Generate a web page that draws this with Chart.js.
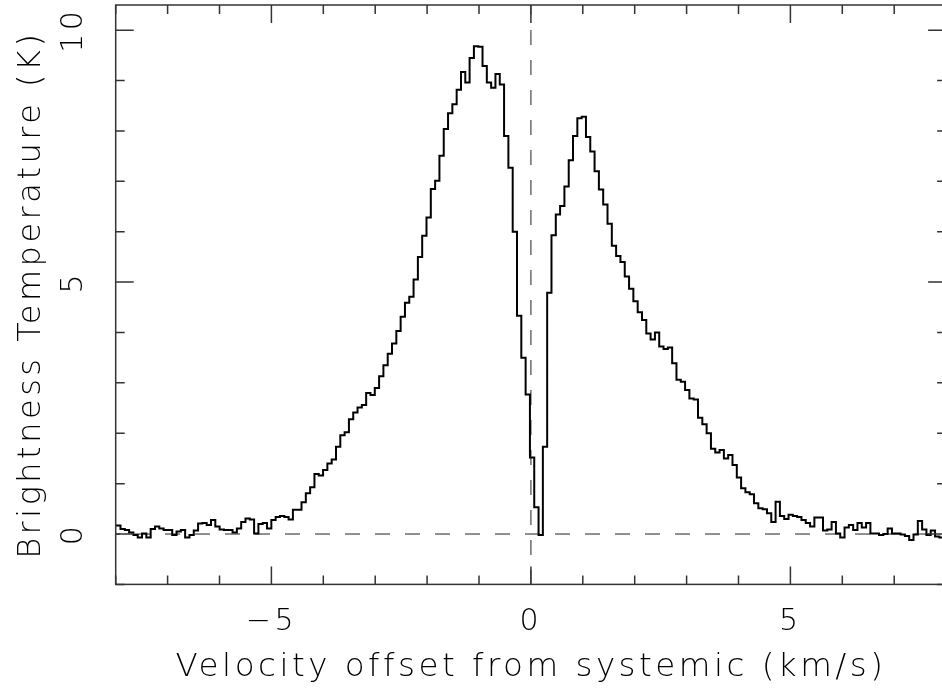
<!DOCTYPE html>
<html>
<head>
<meta charset="utf-8">
<title>Spectrum</title>
<script src="https://cdn.jsdelivr.net/npm/chart.js@4/dist/chart.umd.min.js"></script>
<style>
  html, body { margin: 0; padding: 0; background: #fff; overflow: hidden; }
  canvas { display: block; }
</style>
</head>
<body>
<canvas id="spectrum" width="960" height="692"></canvas>
<script>
// channel grid of the spectrum (km/s)
const firstChannel = -8.032;   // centre of the first channel
const channelWidth = 0.08304;

// brightness temperature per channel (K)
const brightness = [
  0.17, 0.17, 0.10, 0.08, 0.03, -0.02, -0.07, 0.01, -0.07, 0.10,
  0.15, 0.11, 0.08, 0.08, -0.02, 0.05, 0.08, -0.07, -0.02, 0.07,
  0.21, 0.22, 0.18, 0.28, 0.15, 0.09, 0.08, 0.08, 0.03, 0.11,
  0.24, 0.31, 0.29, 0.01, 0.20, 0.22, 0.11, 0.28, 0.34, 0.36,
  0.34, 0.29, 0.48, 0.48, 0.63, 0.81, 0.93, 1.19, 1.16, 1.27,
  1.40, 1.48, 1.73, 1.96, 2.02, 2.28, 2.41, 2.51, 2.56, 2.80,
  2.76, 2.90, 3.13, 3.35, 3.58, 3.78, 4.03, 4.31, 4.59, 4.71,
  5.05, 5.50, 5.92, 6.28, 6.85, 7.01, 7.51, 8.04, 8.35, 8.53,
  8.82, 9.17, 8.96, 9.45, 9.68, 9.67, 9.29, 8.96, 8.86, 9.13,
  8.92, 7.90, 7.27, 6.00, 4.33, 3.50, 2.77, 1.52, 0.53, -0.02,
  1.73, 4.79, 5.93, 6.34, 6.51, 6.90, 7.42, 7.90, 8.25, 8.28,
  7.88, 7.59, 7.20, 6.84, 6.54, 6.16, 5.72, 5.52, 5.40, 5.11,
  4.87, 4.62, 4.40, 4.25, 3.98, 3.86, 4.00, 3.72, 3.67, 3.70,
  3.39, 3.06, 3.02, 2.86, 2.69, 2.67, 2.31, 2.18, 2.00, 1.69,
  1.62, 1.67, 1.50, 1.57, 1.37, 1.12, 0.91, 0.83, 0.79, 0.61,
  0.51, 0.49, 0.41, 0.24, 0.64, 0.36, 0.30, 0.38, 0.36, 0.34,
  0.28, 0.22, 0.15, 0.33, 0.33, 0.07, 0.09, 0.24, 0.01, -0.07,
  0.13, 0.18, 0.08, 0.22, 0.13, 0.22, 0.01, 0.01, -0.02, 0.00,
  0.11, 0.01, 0.01, -0.01, -0.04, -0.12, -0.01, 0.26, 0.09, -0.02,
  0.07, -0.05, -0.07, -0.05
];

// axes
const xRange = [-8, 8];
const yRange = [-1, 10.5];
const xTickStep = 5;
const yTickStep = 5;
const xTitle = 'Velocity offset from systemic (km/s)';
const yTitle = 'Brightness Temperature (K)';

const fontFamily = "'DejaVu Sans', 'Liberation Sans', sans-serif";

const spectrum = brightness.map((t, i) => ({ x: firstChannel + i * channelWidth, y: t }));
const zeroLine = [{ x: xRange[0], y: 0 }, { x: xRange[1], y: 0 }];
const systemicLine = [{ x: 0, y: yRange[0] }, { x: 0, y: yRange[1] }];

function minusSign(v) {
  return v < 0 ? '\u2212' + Math.abs(v) : String(v);
}

// wide, spaced lettering like the plotting package
const spacing = {
  id: 'spacing',
  beforeLayout(chart) { chart.ctx.letterSpacing = '3.5px'; },
  beforeDraw(chart) { chart.ctx.letterSpacing = '3.5px'; }
};

// box round the plot with inward ticks on all four sides
const frame = {
  id: 'frame',
  afterDatasetsDraw(chart) {
    const { ctx, chartArea: a, scales: { x, y } } = chart;
    ctx.save();
    ctx.strokeStyle = '#333';
    ctx.lineWidth = 1.5;
    ctx.strokeRect(a.left, a.top, a.right - a.left, a.bottom - a.top);
    ctx.beginPath();
    for (let v = Math.ceil(x.min); v <= x.max; v++) {
      const px = x.getPixelForValue(v);
      const len = v % 5 === 0 ? 18 : 9;
      ctx.moveTo(px, a.bottom); ctx.lineTo(px, a.bottom - len);
      ctx.moveTo(px, a.top); ctx.lineTo(px, a.top + len);
    }
    for (let v = Math.ceil(y.min); v <= y.max; v++) {
      const py = y.getPixelForValue(v);
      const len = v % 5 === 0 ? 18 : 9;
      ctx.moveTo(a.left, py); ctx.lineTo(a.left + len, py);
      ctx.moveTo(a.right, py); ctx.lineTo(a.right - len, py);
    }
    ctx.stroke();
    ctx.restore();
  }
};

// fixed axis sizes so the plot box sits where the original one does
function fixSize(prop, value) {
  return scale => {
    scale[prop] = value;
    scale.paddingTop = 0;
    scale.paddingBottom = 0;
    scale.paddingLeft = 0;
    scale.paddingRight = 0;
  };
}

const ctx = document.getElementById('spectrum').getContext('2d');
new Chart(ctx, {
  type: 'line',
  data: {
    datasets: [
      {
        data: spectrum,
        stepped: 'middle',
        borderColor: '#000',
        borderWidth: 2,
        pointRadius: 0,
        order: 0
      },
      {
        data: zeroLine,
        borderColor: '#555',
        borderWidth: 1.3,
        borderDash: [15, 15],
        borderDashOffset: 10.7,
        pointRadius: 0,
        order: 1
      },
      {
        data: systemicLine,
        borderColor: '#555',
        borderWidth: 1.3,
        borderDash: [15, 15],
        borderDashOffset: 0.6,
        pointRadius: 0,
        order: 1
      }
    ]
  },
  options: {
    responsive: false,
    devicePixelRatio: 1,
    animation: false,
    layout: { padding: { top: 5, right: 13.9, left: 0, bottom: 0 } },
    plugins: {
      legend: { display: false },
      tooltip: { enabled: false }
    },
    scales: {
      x: {
        type: 'linear',
        min: xRange[0],
        max: xRange[1],
        grid: { display: false },
        border: { display: false },
        ticks: {
          stepSize: xTickStep,
          includeBounds: false,
          padding: 12,
          color: '#000',
          font: { family: fontFamily, size: 30, weight: 200 },
          callback: minusSign
        },
        title: {
          display: true,
          text: xTitle,
          color: '#000',
          font: { family: fontFamily, size: 32.5, weight: 200 },
          padding: { top: 0, bottom: 5 }
        },
        afterFit: fixSize('height', 107.6)
      },
      y: {
        type: 'linear',
        min: yRange[0],
        max: yRange[1],
        grid: { display: false },
        border: { display: false },
        ticks: {
          stepSize: yTickStep,
          includeBounds: false,
          minRotation: 90,
          maxRotation: 90,
          crossAlign: 'center',
          padding: 10.5,
          color: '#000',
          font: { family: fontFamily, size: 30, weight: 200 }
        },
        title: {
          display: true,
          text: yTitle,
          color: '#000',
          font: { family: fontFamily, size: 32, weight: 200 },
          padding: { top: 12, bottom: 0 }
        },
        afterFit: fixSize('width', 115.7)
      }
    }
  },
  plugins: [spacing, frame]
});
</script>
</body>
</html>
